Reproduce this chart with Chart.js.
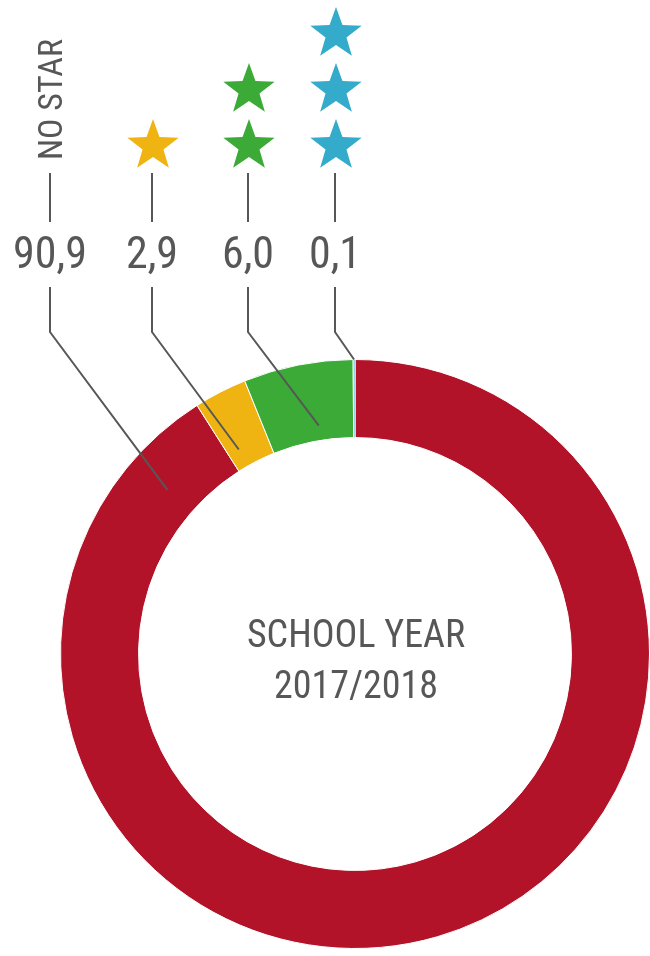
<!DOCTYPE html>
<html>
<head>
<meta charset="utf-8">
<script src="https://cdn.jsdelivr.net/npm/chart.js@4.4.1/dist/chart.umd.min.js"></script>
<style>
  html, body { margin: 0; padding: 0; background: #fff; }
  #wrap { position: relative; width: 650px; height: 956px; }
</style>
</head>
<body>
<div id="wrap"><canvas id="myChart" width="650" height="956"></canvas></div>
<script>
  "use strict";

  // data
  var categories = ["NO STAR", "1 STAR", "2 STARS", "3 STARS"];
  var starCounts = [0, 1, 2, 3];
  var shares = [90.9, 2.9, 6.0, 0.1];
  var valueLabels = ["90,9", "2,9", "6,0", "0,1"];
  var colors = ["#b31329", "#f0b412", "#3caa36", "#34abcb"];
  var centerLines = ["SCHOOL YEAR", "2017/2018"];

  var FONT = '"Roboto Condensed", "Liberation Sans Narrow", "DejaVu Sans Condensed", sans-serif';
  var GREY = "#575757";

  // label column layout (x of each column, where the leader line points into the ring)
  var columnX = [50, 152, 248, 335];
  var anchorT = [0.95, 0.27, 0.6, 0.5];
  var anchorR = [0.42, 0.24, 0.19, 1.0];

  function drawStar(ctx, cx, cy, R, r, color) {
    ctx.beginPath();
    for (var k = 0; k < 10; k++) {
      var rad = k % 2 === 0 ? R : r;
      var a = -Math.PI / 2 + k * Math.PI / 5;
      var px = cx + rad * Math.cos(a), py = cy + rad * Math.sin(a);
      if (k === 0) ctx.moveTo(px, py); else ctx.lineTo(px, py);
    }
    ctx.closePath();
    ctx.fillStyle = color;
    ctx.fill();
  }

  var labelPlugin = {
    id: "labels",
    afterDraw: function (chart) {
      var ctx = chart.ctx;
      var arcs = chart.getDatasetMeta(0).data;
      ctx.save();

      // center text
      ctx.fillStyle = GREY;
      ctx.font = "38px " + FONT;
      ctx.textAlign = "center";
      ctx.textBaseline = "alphabetic";
      var c = arcs[0];
      ctx.fillText(centerLines[0], c.x + 1, c.y - 7);
      ctx.fillText(centerLines[1], c.x + 1, c.y + 44);

      for (var i = 0; i < arcs.length; i++) {
        var arc = arcs[i];
        var x = columnX[i];
        var p = arc.getProps(["x", "y", "startAngle", "endAngle", "innerRadius", "outerRadius"], true);
        var ang = p.startAngle + (p.endAngle - p.startAngle) * anchorT[i];
        var rad = p.innerRadius + (p.outerRadius - p.innerRadius) * anchorR[i];
        var ax = p.x + Math.cos(ang) * rad;
        var ay = p.y + Math.sin(ang) * rad;

        ctx.strokeStyle = GREY;
        ctx.lineWidth = 2;
        ctx.beginPath();
        ctx.moveTo(x, 173);
        ctx.lineTo(x, 222);
        ctx.stroke();

        ctx.beginPath();
        ctx.moveTo(x, 287);
        ctx.lineTo(x, 332);
        ctx.lineTo(ax, ay);
        ctx.stroke();

        ctx.fillStyle = GREY;
        ctx.font = "44px " + FONT;
        ctx.textAlign = "center";
        ctx.fillText(valueLabels[i], x, 268);

        if (starCounts[i] === 0) {
          ctx.save();
          ctx.translate(x + 12, 160);
          ctx.rotate(-Math.PI / 2);
          ctx.font = "34px " + FONT;
          ctx.textAlign = "left";
          ctx.fillText(categories[i], 0, 0);
          ctx.restore();
        } else {
          for (var s = 0; s < starCounts[i]; s++) {
            drawStar(ctx, x + 1, 146 - s * 56, 27, 11, colors[i]);
          }
        }
      }
      ctx.restore();
    }
  };

  var ctx = document.getElementById("myChart").getContext("2d");
  var chart = new Chart(ctx, {
    type: "doughnut",
    data: {
      labels: categories,
      datasets: [
        {
          data: shares,
          backgroundColor: colors,
          borderColor: "#ffffff",
          borderWidth: 1,
        },
      ],
    },
    options: {
      responsive: false,
      animation: false,
      cutout: "73.5%",
      layout: { padding: { left: 60, right: 0, top: 359, bottom: 7 } },
      plugins: {
        legend: { display: false },
        tooltip: { enabled: false },
      },
    },
    plugins: [labelPlugin],
  });
</script>
</body>
</html>
